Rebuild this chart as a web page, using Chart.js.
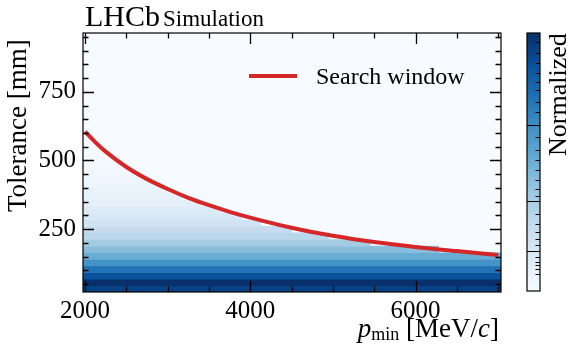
<!DOCTYPE html>
<html>
<head>
<meta charset="utf-8">
<script src="https://cdn.jsdelivr.net/npm/chart.js@4.4.1/dist/chart.umd.min.js"></script>
<style>
  body { margin: 0; background: #fff; }
  #wrap { position: relative; width: 570px; height: 355px; font-family: "Liberation Serif", "DejaVu Serif", serif; color: #000; }
  canvas { position: absolute; top: 0; }
  #main { left: 0; }
  #cbar { left: 520px; }
  .lbl { position: absolute; white-space: nowrap; line-height: 1; }
  #brand { left: 85px; top: 1px; font-size: 30px; }
  #brand span { font-size: 23px; margin-left: 3px; }
  #swatch { position: absolute; left: 249px; top: 74px; width: 48px; height: 4px; background: #d62728; }
  #legendText { left: 316px; top: 64px; font-size: 24px; }
  #xtitle { right: 71px; top: 315px; font-size: 27px; }
  #xtitle sub { font-size: 18px; vertical-align: -3px; }
  #ytitle { left: 4px; top: 212px; font-size: 27px; transform-origin: 0 0; transform: rotate(-90deg); }
  #ctitle { left: 545px; top: 156px; font-size: 26px; transform-origin: 0 0; transform: rotate(-90deg); }
</style>
</head>
<body>
<div id="wrap">
  <canvas id="main" width="520" height="355"></canvas>
  <canvas id="cbar" width="50" height="355"></canvas>
  <div id="brand" class="lbl">LHCb<span>Simulation</span></div>
  <div id="swatch"></div>
  <div id="legendText" class="lbl">Search window</div>
  <div id="xtitle" class="lbl"><i>p</i><sub>min</sub> [MeV/<i>c</i>]</div>
  <div id="ytitle" class="lbl">Tolerance [mm]</div>
  <div id="ctitle" class="lbl">Normalized</div>
</div>
<script>
// search window: tolerance vs minimum momentum
const pMin = [2000, 2125, 2250, 2500, 2750, 3000, 3250, 3500, 3750, 4000, 4500, 5000, 5500, 6000, 6500, 7000];
const windowTol = [605, 566, 532, 476, 432, 396, 364, 337, 313, 292, 255, 226, 203, 185, 170, 156];

// tolerance histogram, 24 mm bins: lower edge, colour level (0..1) and how far in p the bin is filled
const binWidth = 24;
const binLow = [20, 44, 68, 92, 116, 140, 164, 188, 212, 236, 260, 284, 308, 332, 356, 380, 404, 428, 452, 476, 500, 524, 548, 572, 596];
const binLevel = [0.93, 1.0, 0.87, 0.745, 0.62, 0.505, 0.43, 0.36, 0.29, 0.25, 0.19, 0.15, 0.125, 0.10, 0.08, 0.065, 0.05, 0.04, 0.03, 0.022, 0.016, 0.011, 0.007, 0.004, 0.002];
const binEnd = [7035, 7035, 7035, 7035, 7035, 7035, 6280, 5450, 4950, 4500, 4130, 3900, 3640, 3390, 3180, 3000, 2830, 2690, 2545, 2430, 2320, 2218, 2130, 2050, 1990];
const pStart = 1975;

const xTickValues = [2000, 4000, 6000];
const yTickValues = [250, 500, 750];

// colour bar ticks, as fractions of its height
const cbarMajor = [0.156, 0.347, 0.645];
const cbarMinor = [0.065, 0.085, 0.101, 0.114, 0.130, 0.179, 0.201, 0.227, 0.260, 0.299,
  0.370, 0.396, 0.429, 0.468, 0.506, 0.545, 0.597, 0.695, 0.734, 0.779, 0.811, 0.844, 0.883, 0.922, 0.964];

const BLUES = ['#f7fbff', '#deebf7', '#c6dbef', '#9ecae1', '#6baed6', '#4292c6', '#2171b5', '#08519c', '#08306b'];

function hexRgb(h) {
  return [1, 3, 5].map((i) => parseInt(h.slice(i, i + 2), 16));
}

function blues(t) {
  const s = Math.max(0, Math.min(1, t)) * (BLUES.length - 1);
  const i = Math.min(Math.floor(s), BLUES.length - 2);
  const f = s - i;
  const a = hexRgb(BLUES[i]);
  const b = hexRgb(BLUES[i + 1]);
  const c = a.map((v, k) => Math.round(v + (b[k] - v) * f));
  return `rgb(${c[0]}, ${c[1]}, ${c[2]})`;
}

const SERIF = "'Liberation Serif', 'DejaVu Serif', serif";

// matplotlib-like frame with inward ticks on all four sides
const frameTicks = {
  id: 'frameTicks',
  beforeDatasetsDraw(chart) {
    const { ctx, chartArea: a } = chart;
    ctx.save();
    ctx.fillStyle = BLUES[0];
    ctx.fillRect(a.left, a.top, a.right - a.left, a.bottom - a.top);
    ctx.restore();
  },
  afterDatasetsDraw(chart) {
    const { ctx, chartArea: a, scales } = chart;
    ctx.save();
    ctx.strokeStyle = '#000';
    ctx.lineWidth = 1.3;
    ctx.beginPath();
    const xt = (v, len) => {
      const px = Math.round(scales.x.getPixelForValue(v)) + 0.5;
      ctx.moveTo(px, a.bottom); ctx.lineTo(px, a.bottom - len);
      ctx.moveTo(px, a.top); ctx.lineTo(px, a.top + len);
    };
    const yt = (v, len) => {
      const py = Math.round(scales.y.getPixelForValue(v)) + 0.5;
      ctx.moveTo(a.left, py); ctx.lineTo(a.left + len, py);
      ctx.moveTo(a.right, py); ctx.lineTo(a.right - len, py);
    };
    for (let v = 2000; v <= 7000; v += 500) xt(v, xTickValues.includes(v) ? 11 : 5.5);
    for (let v = 50; v <= 950; v += 50) yt(v, yTickValues.includes(v) ? 11 : 5.5);
    ctx.stroke();
    ctx.lineWidth = 1.2;
    ctx.strokeRect(a.left, a.top, a.right - a.left, a.bottom - a.top);
    ctx.restore();
  }
};

new Chart(document.getElementById('main'), {
  type: 'bar',
  data: {
    datasets: [
      {
        type: 'line',
        label: 'Search window',
        data: pMin.map((p, i) => ({ x: p, y: windowTol[i] })),
        borderColor: '#d62728',
        borderWidth: 4,
        pointRadius: 0,
        cubicInterpolationMode: 'monotone',
        fill: false,
        order: 0,
      },
      {
        type: 'bar',
        indexAxis: 'y',
        label: 'Tolerance',
        data: binLow.map((lo, i) => ({ y: lo + binWidth / 2, x: [pStart, binEnd[i]] })),
        backgroundColor: binLevel.map(blues),
        borderWidth: 0,
        barPercentage: 1,
        categoryPercentage: 1,
        grouped: false,
        order: 1,
      },
    ],
  },
  options: {
    responsive: false,
    animation: false,
    events: [],
    layout: { padding: { top: 33, right: 19, bottom: 0, left: 0 } },
    plugins: {
      legend: { display: false },
      tooltip: { enabled: false },
    },
    scales: {
      x: {
        type: 'linear',
        min: 1975,
        max: 7035,
        offset: false,
        grid: { display: false, drawTicks: false, offset: false },
        border: { display: false },
        afterBuildTicks: (s) => { s.ticks = xTickValues.map((v) => ({ value: v })); },
        afterFit: (s) => { s.height = 63; },
        ticks: {
          padding: 4,
          maxRotation: 0,
          color: '#000',
          font: { family: SERIF, size: 25 },
          callback: (v) => String(v),
        },
      },
      y: {
        type: 'linear',
        min: 21,
        max: 964,
        offset: false,
        grid: { display: false, drawTicks: false, offset: false },
        border: { display: false },
        afterBuildTicks: (s) => { s.ticks = yTickValues.map((v) => ({ value: v })); },
        afterFit: (s) => { s.width = 83; },
        ticks: {
          padding: 7,
          color: '#000',
          font: { family: SERIF, size: 25 },
          callback: (v) => String(v),
        },
      },
    },
  },
  plugins: [frameTicks],
});

// colour bar
const cbarTicks = {
  id: 'cbarTicks',
  afterDatasetsDraw(chart) {
    const { ctx, chartArea: a } = chart;
    const h = a.bottom - a.top;
    ctx.save();
    ctx.strokeStyle = '#000';
    ctx.lineWidth = 1.1;
    ctx.beginPath();
    cbarMajor.forEach((f) => {
      const py = Math.round(a.bottom - f * h) + 0.5;
      ctx.moveTo(a.left, py); ctx.lineTo(a.right, py);
    });
    cbarMinor.forEach((f) => {
      const py = Math.round(a.bottom - f * h) + 0.5;
      ctx.moveTo(a.right, py); ctx.lineTo(a.right - 4.5, py);
    });
    ctx.stroke();
    ctx.lineWidth = 1.2;
    ctx.strokeRect(a.left, a.top, a.right - a.left, a.bottom - a.top);
    ctx.restore();
  }
};

new Chart(document.getElementById('cbar'), {
  type: 'bar',
  data: {
    labels: [''],
    datasets: [{
      data: [[0, 1]],
      borderWidth: 0,
      barPercentage: 1,
      categoryPercentage: 1,
      backgroundColor: (c) => {
        const a = c.chart.chartArea;
        if (!a) return BLUES[4];
        const g = c.chart.ctx.createLinearGradient(0, a.bottom, 0, a.top);
        BLUES.forEach((col, i) => g.addColorStop(i / (BLUES.length - 1), col));
        return g;
      },
    }],
  },
  options: {
    responsive: false,
    animation: false,
    events: [],
    layout: { padding: { top: 33, right: 30, bottom: 64, left: 7 } },
    plugins: { legend: { display: false }, tooltip: { enabled: false } },
    scales: {
      x: { display: false },
      y: { display: false, min: 0, max: 1 },
    },
  },
  plugins: [cbarTicks],
});
</script>
</body>
</html>
